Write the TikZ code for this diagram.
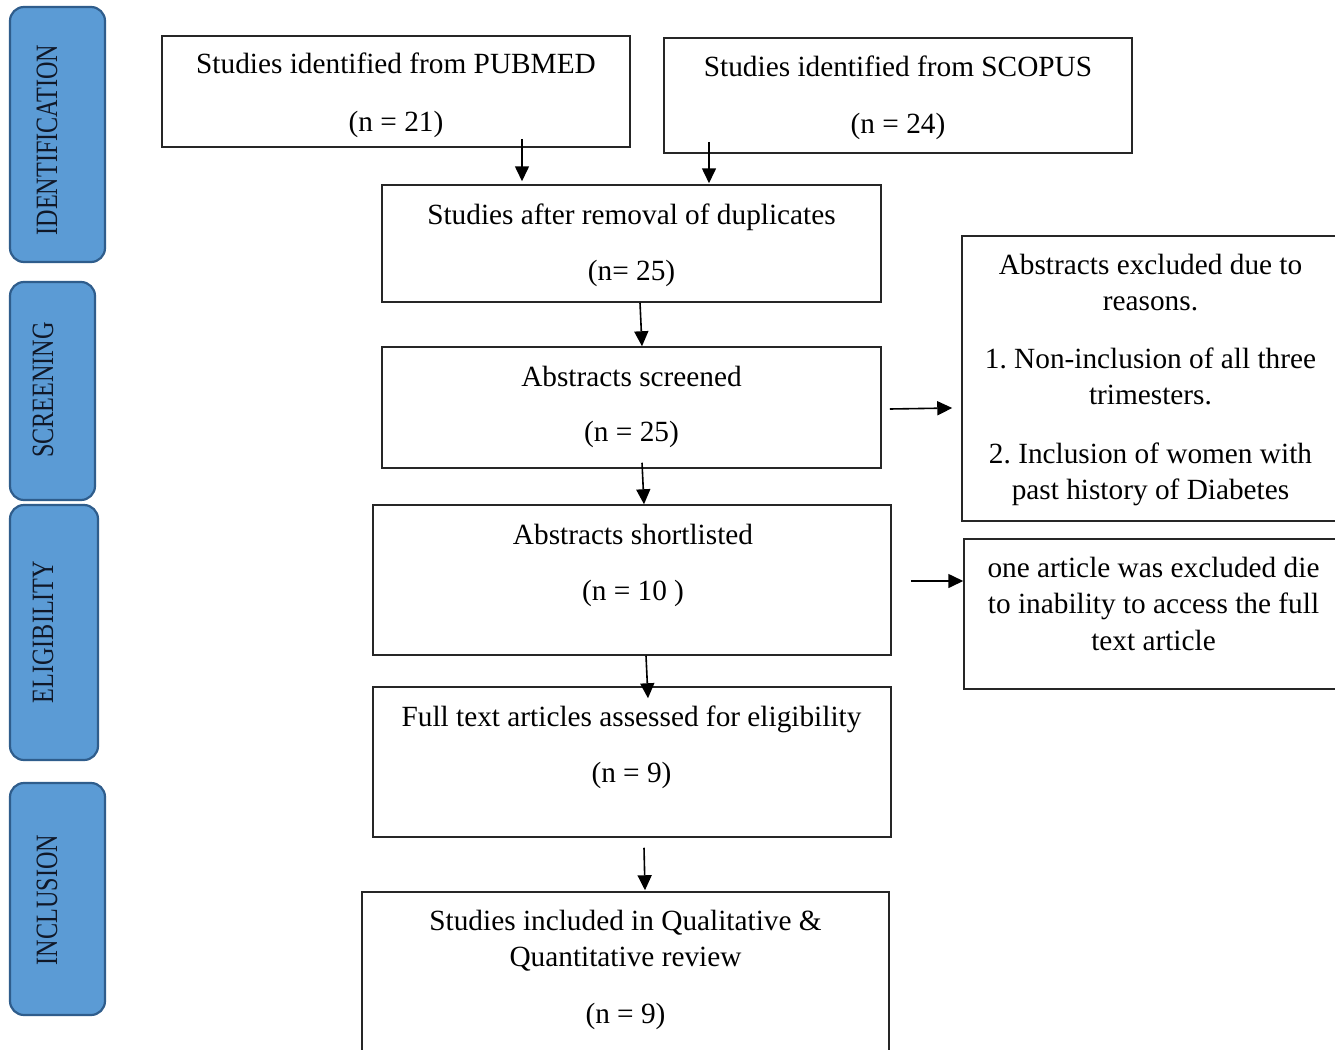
\documentclass[tikz,border=0pt]{standalone}
\usepackage{fontspec}
\setmainfont{Liberation Serif}
\usetikzlibrary{arrows.meta,calc}
\definecolor{sidefill}{HTML}{5B9BD5}
\definecolor{sidedraw}{HTML}{2F5D8C}
\definecolor{sidetext}{HTML}{101828}
\frenchspacing
\begin{document}
\begin{tikzpicture}[x=1pt,y=-1pt,
  box/.style={draw=black!85, line width=1.5pt, inner sep=0pt, rectangle},
  sidebox/.style={draw=sidedraw, fill=sidefill, line width=2.2pt, rounded corners=14pt, inner sep=0pt, rectangle},
  sidelbl/.style={rotate=90, inner sep=0pt, text=sidetext, font=\fontsize{31}{36}\selectfont},
  lbl/.style={anchor=base, inner sep=0pt, font=\fontsize{29.3}{36}\selectfont},
  arr/.style={line width=1.6pt, -{Triangle[length=15pt,width=14pt]}}]
\fill[white] (0,0) rectangle (1335,1049);
\useasboundingbox (0,0) rectangle (1335,1049);

% side phase labels
\node[sidebox, minimum width=95pt, minimum height=255pt] (sid) at (57.5,134.5) {};
\node[sidelbl] (tid) at (47,140) {\scalebox{0.78}[1]{IDENTIFICATION}};
\node[sidebox, minimum width=85pt, minimum height=218pt] (sscr) at (52.5,391) {};
\node[sidelbl] (tscr) at (43,390) {\scalebox{0.78}[1]{SCREENING}};
\node[sidebox, minimum width=88pt, minimum height=255pt] (sel) at (54,632.5) {};
\node[sidelbl] (tel) at (43,632) {\scalebox{0.78}[1]{ELIGIBILITY}};
\node[sidebox, minimum width=95pt, minimum height=232pt] (sinc) at (57.5,899) {};
\node[sidelbl] (tinc) at (47,900) {\scalebox{0.78}[1]{INCLUSION}};

% main boxes
\node[box, minimum width=468pt, minimum height=111pt] (pub) at (396,91.5) {};
\node[lbl] (pub1) at (396,74) {Studies identified from PUBMED};
\node[lbl] (pub2) at (396,131) {(n = 21)};

\node[box, minimum width=468pt, minimum height=115pt] (sco) at (898,95.5) {};
\node[lbl] (sco1) at (898,77) {Studies identified from SCOPUS};
\node[lbl] (sco2) at (898,133) {(n = 24)};

\node[box, minimum width=499pt, minimum height=117pt] (dup) at (631.5,243.5) {};
\node[lbl] (dup1) at (631.5,224) {Studies after removal of duplicates};
\node[lbl] (dup2) at (631.5,280) {(n= 25)};

\node[box, minimum width=499pt, minimum height=121pt] (scr) at (631.5,407.5) {};
\node[lbl] (scr1) at (631.5,386) {Abstracts screened};
\node[lbl] (scr2) at (631.5,441) {(n = 25)};

\node[box, minimum width=518pt, minimum height=150pt] (sho) at (632,580) {};
\node[lbl] (sho1) at (633,544) {Abstracts shortlisted};
\node[lbl] (sho2) at (633,600) {(n = 10 )};

\node[box, minimum width=518pt, minimum height=150pt] (ful) at (632,762) {};
\node[lbl] (ful1) at (631.5,726) {Full text articles assessed for eligibility};
\node[lbl] (ful2) at (631.5,782) {(n = 9)};

\node[box, minimum width=527pt, minimum height=178pt] (inc) at (625.5,981) {};
\node[lbl] (inc1) at (625.5,930) {Studies included in Qualitative \&};
\node[lbl] (inc2) at (625.5,966) {Quantitative review};
\node[lbl] (inc3) at (625.5,1023) {(n = 9)};

% exclusion boxes
\node[box, minimum width=383pt, minimum height=285pt] (ex1) at (1153.5,378.5) {};
\node[lbl] (ex1a) at (1150.5,274) {Abstracts excluded due to};
\node[lbl] (ex1b) at (1150.5,310) {reasons.};
\node[lbl] (ex1c) at (1150.5,368) {1. Non-inclusion of all three};
\node[lbl] (ex1d) at (1150.5,404) {trimesters.};
\node[lbl] (ex1e) at (1150.5,463) {2. Inclusion of women with};
\node[lbl] (ex1f) at (1150.5,499) {past history of Diabetes};

\node[box, minimum width=381pt, minimum height=150pt] (ex2) at (1154.5,614) {};
\node[lbl] (ex2a) at (1153.5,577) {one article was excluded die};
\node[lbl] (ex2b) at (1153.5,613) {to inability to access the full};
\node[lbl] (ex2c) at (1153.5,650) {text article};

% connectors
\draw[arr] ($(pub.south -| 522,0)+(0,-9)$) -- ($(dup.north -| 522,0)+(0,-3)$);
\draw[arr] ($(sco.south -| 709,0)+(0,-12)$) -- ($(dup.north -| 709,0)+(0,-1)$);
\draw[arr] (dup.south -| 640,0) -- (scr.north -| 642,0);
\draw[arr] ($(scr.south -| 642,0)+(0,-6)$) -- (sho.north -| 644,0);
\draw[arr] (sho.south -| 646,0) -- ($(ful.north -| 648,0)+(0,12)$);
\draw[arr] ($(ful.south -| 644,0)+(0,10)$) -- ($(inc.north -| 645,0)+(0,-1)$);
\draw[arr] ($(scr.east |- 0,409)+(8,0)$) -- ($(ex1.west |- 0,408)+(-9,0)$);
\draw[arr] ($(sho.east |- 0,581)+(19,0)$) -- (ex2.west |- 0,581);
\end{tikzpicture}
\end{document}
